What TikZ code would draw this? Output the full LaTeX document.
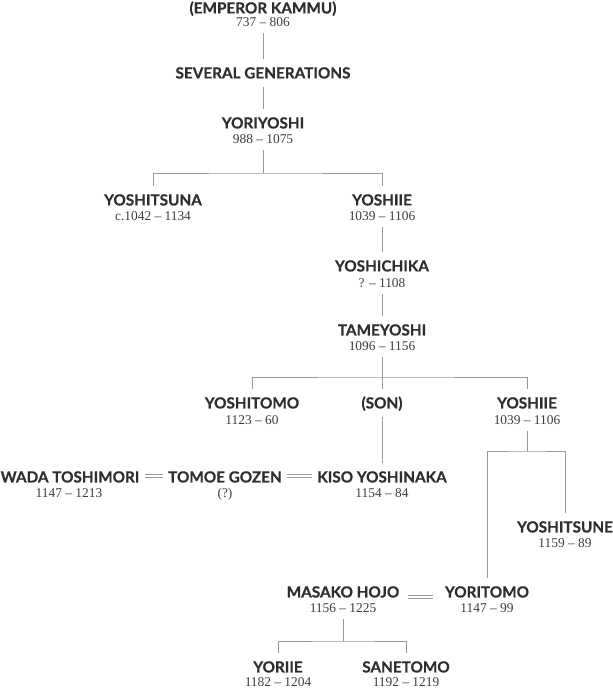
\documentclass[tikz,border=0pt]{standalone}
\usepackage{fontspec}
\newfontfamily\namefont{Lato}[BoldFeatures={FakeBold=0.6}]
\newfontfamily\datefont{Liberation Serif}
\definecolor{ink}{HTML}{2E2E2E}
\definecolor{dink}{HTML}{3C3C3C}
\definecolor{linec}{HTML}{9A9A9A}
\tikzset{
  nm/.style={font=\namefont\bfseries\fontsize{15.3}{15.3}\selectfont, text=ink, inner xsep=5pt, inner ysep=0pt, text height=10.9pt, text depth=0pt, minimum height=28pt},
  dt/.style={font=\datefont\fontsize{13.4}{13.4}\selectfont, text=dink, inner sep=0pt, text height=8.5pt, text depth=0pt, minimum height=22pt},
  ln/.style={draw=linec, line width=0.9pt},
  wed/.style={draw=linec, line width=0.8pt, double=white, double distance=2pt}
}
\begin{document}
\begin{tikzpicture}[x=1pt, y=-1pt]
\useasboundingbox (0,0) rectangle (613,688);
% people
\node[nm] (kammu) at (263,8) {(EMPEROR KAMMU)};
\node[dt] (kammud) at (263,22) {737 – 806};
\node[nm] (gens) at (263,73) {SEVERAL GENERATIONS};
\node[nm] (yoriyoshi) at (263,123) {YORIYOSHI};
\node[dt] (yoriyoshid) at (263,139) {988 – 1075};
\node[nm] (yoshitsuna) at (153,200) {YOSHITSUNA};
\node[dt] (yoshitsunad) at (153,216) {c.1042 – 1134};
\node[nm] (yoshiiea) at (382,200) {YOSHIIE};
\node[dt] (yoshiiead) at (382,216) {1039 – 1106};
\node[nm] (yoshichika) at (382,266) {YOSHICHIKA};
\node[dt] (yoshichikad) at (382,283) {? – 1108};
\node[nm] (tameyoshi) at (382,330) {TAMEYOSHI};
\node[dt] (tameyoshid) at (382,346) {1096 – 1156};
\node[nm] (yoshitomo) at (252,403) {YOSHITOMO};
\node[dt] (yoshitomod) at (252,420) {1123 – 60};
\node[nm] (son) at (382,403) {(SON)};
\node[nm] (yoshiieb) at (527,403) {YOSHIIE};
\node[dt] (yoshiiebd) at (527,420) {1039 – 1106};
\node[nm] (wada) at (70,477) {WADA TOSHIMORI};
\node[dt] (wadad) at (69,493) {1147 – 1213};
\node[nm] (tomoe) at (225,477) {TOMOE GOZEN};
\node[dt] (tomoed) at (225,493) {(?)};
\node[nm] (kiso) at (382,477) {KISO YOSHINAKA};
\node[dt] (kisod) at (382,493) {1154 – 84};
\node[nm] (yoshitsune) at (565,527) {YOSHITSUNE};
\node[dt] (yoshitsuned) at (565,543) {1159 – 89};
\node[nm] (masako) at (343,592) {MASAKO HOJO};
\node[dt] (masakod) at (343,608) {1156 – 1225};
\node[nm] (yoritomo) at (487,592) {YORITOMO};
\node[dt] (yoritomod) at (487,608) {1147 – 99};
\node[nm] (yoriie) at (278,667) {YORIIE};
\node[dt] (yoriied) at (278,682) {1182 – 1204};
\node[nm] (sanetomo) at (406,667) {SANETOMO};
\node[dt] (sanetomod) at (406,682) {1192 – 1219};
% forks
\coordinate (f1) at (263,173);
\coordinate (f2) at (382,377);
\coordinate (f3) at (527,451);
\coordinate (f4) at (343,641);
% connectors
\draw[ln] (kammud.south) -- (gens.north);
\draw[ln] (gens.south) -- (yoriyoshi.north);
\draw[ln] (yoriyoshid.south) -- (f1);
\draw[ln] (yoshitsuna.north) |- (f1) -| (yoshiiea.north);
\draw[ln] (yoshiiead.south) -- (yoshichika.north);
\draw[ln] (yoshichikad.south) -- (tameyoshi.north);
\draw[ln] (tameyoshid.south) -- (f2);
\draw[ln] (yoshitomo.north) |- (f2) -| (yoshiieb.north);
\draw[ln] (f2) -- (son.north);
\draw[ln] (son.south) -- (kiso.north);
\draw[ln] (yoshiiebd.south) -- (f3);
\draw[ln] (yoritomo.north) |- (f3) -| (yoshitsune.north);
\draw[ln] (masakod.south) -- (f4);
\draw[ln] (yoriie.north) |- (f4) -| (sanetomo.north);
% marriages
\draw[wed] ([yshift=1pt]wada.east) -- ([yshift=1pt]tomoe.west);
\draw[wed] ([yshift=1pt]tomoe.east) -- ([yshift=1pt]kiso.west);
\draw[wed] ([xshift=4pt,yshift=-5pt]masako.east) -- ([xshift=-7pt,yshift=-5pt]yoritomo.west);
\end{tikzpicture}
\end{document}
